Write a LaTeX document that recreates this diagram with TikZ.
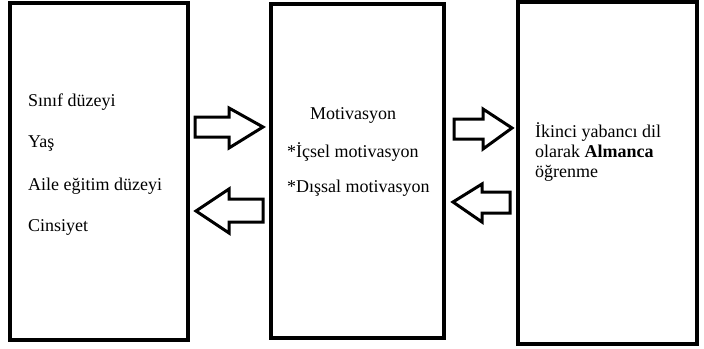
\documentclass[tikz,border=0pt]{standalone}
\usepackage{fontspec}
\setmainfont{Liberation Serif}
\begin{document}
\begin{tikzpicture}[x=1pt,y=-1pt,
  box/.style={draw=black,line width=4pt,rectangle,inner sep=0pt},
  blockarrow/.style={draw=black,line width=3pt,fill=white,line join=miter},
  txt/.style={anchor=base west,inner sep=0pt,font=\fontsize{18}{20}\selectfont}]
\useasboundingbox (0,0) rectangle (704,348);
% boxes
\node[box,minimum width=178pt,minimum height=337pt] (L) at (99,171.5) {};
\node[box,minimum width=173pt,minimum height=334pt] (M) at (357.5,171) {};
\node[box,minimum width=179pt,minimum height=342pt] (R) at (607.5,173) {};
% left texts
\node[txt] (l1) at (28,106) {Sınıf düzeyi};
\node[txt] (l2) at (28,147) {Yaş};
\node[txt] (l3) at (28,190) {Aile eğitim düzeyi};
\node[txt] (l4) at (28,231) {Cinsiyet};
% middle texts
\node[txt] (m1) at (310,119) {Motivasyon};
\node[txt] (m2) at (287,157) {*İçsel motivasyon};
\node[txt] (m3) at (287,192) {*Dışsal motivasyon};
% right texts
\node[txt] (r1) at (535,137) {İkinci yabancı dil};
\node[txt] (r2) at (535,157) {olarak \textbf{Almanca}};
\node[txt] (r3) at (535,177) {öğrenme};
% block arrows
\draw[blockarrow] (195,117) -- (229,117) -- (229,108) -- (263,127) -- (229,148) -- (229,137) -- (195,137) -- cycle;
\draw[blockarrow] (263,199) -- (229,199) -- (229,189) -- (196,211) -- (229,233) -- (229,222) -- (263,222) -- cycle;
\draw[blockarrow] (454,119) -- (483,119) -- (483,109) -- (512,128) -- (483,149) -- (483,139) -- (454,139) -- cycle;
\draw[blockarrow] (510,192) -- (482,192) -- (482,184) -- (453,202) -- (482,222) -- (482,213) -- (510,213) -- cycle;
\end{tikzpicture}
\end{document}
